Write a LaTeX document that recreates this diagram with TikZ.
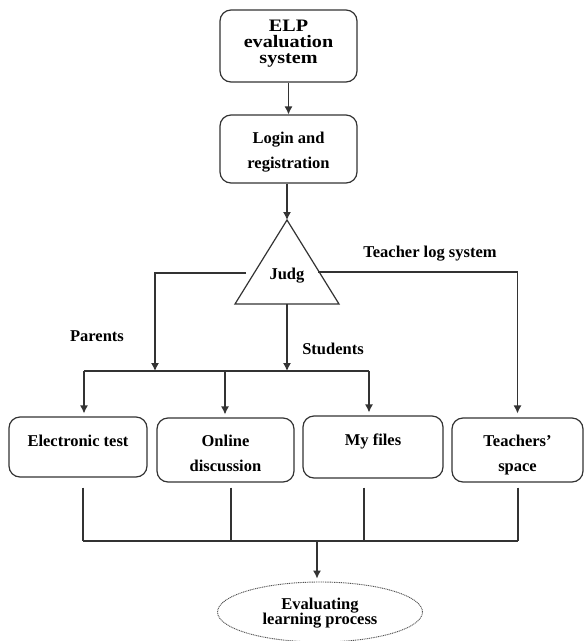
\documentclass[tikz,border=0pt]{standalone}
\usepackage{fontspec}
\setmainfont{Liberation Serif}
\newfontfamily\elpfont[FakeStretch=1.15]{Liberation Serif}
\usetikzlibrary{arrows.meta,shapes.geometric}
\definecolor{ln}{HTML}{333333}
\begin{document}
\begin{tikzpicture}[x=1pt,y=-1pt,
  box/.style={draw=ln, line width=1.2pt, rounded corners=11pt, inner sep=0pt},
  arr/.style={draw=ln, line width=1.2pt, -{Latex[length=8pt,width=8pt]}},
  conn/.style={draw=ln, line width=1.2pt},
  txt/.style={font=\bfseries\fontsize{16.5}{17}\selectfont, inner sep=0pt, anchor=base},
  big/.style={font=\elpfont\bfseries\fontsize{17.5}{16}\selectfont, inner sep=0pt, anchor=base}]
\useasboundingbox (0,0) rectangle (584,641);
\clip (0,0) rectangle (584,641);
\fill[white] (0,0) rectangle (584,641);

% top boxes
\node[box, minimum width=137pt, minimum height=72pt] (elp) at (288.5,46) {};
\node[big] at (288.5,31) {ELP};
\node[big] at (288.5,47) {evaluation};
\node[big] at (288.5,63) {system};

\node[box, minimum width=137pt, minimum height=68pt] (login) at (288.5,149) {};
\node[txt] at (288.5,143) {Login and};
\node[txt] at (288.5,168) {registration};

% triangle
\coordinate (tA) at (287,220);
\coordinate (tL) at (235,304);
\coordinate (tR) at (339,304);
\draw[conn, line join=miter] (tA) -- (tL) -- (tR) -- cycle;
\node[txt] (judg) at (287,279) {Judg};

\draw[arr] (elp.south) -- (elp.south |- login.north);
\draw[arr] (login.south -| tA) -- (tA);

% bottom row boxes
\node[box, minimum width=138pt, minimum height=60pt] (etest) at (78,447) {};
\node[box, minimum width=137pt, minimum height=64pt] (online) at (225.5,450) {};
\node[box, minimum width=140pt, minimum height=62pt] (myfiles) at (373,447) {};
\node[box, minimum width=131pt, minimum height=64pt] (teach) at (517.5,450) {};
\node[txt] at (78,446) {Electronic test};
\node[txt] at (225.5,446) {Online};
\node[txt] at (225.5,471) {discussion};
\node[txt] at (373,445) {My files};
\node[txt] at (517.5,446) {Teachers'};
\node[txt] at (517.5,471) {space};

% branches from Judg
\coordinate (jl) at (246,273);
\coordinate (jr) at (318,272);
\coordinate (jb) at (287,304);
\coordinate (p1) at (84,371);
\coordinate (p2) at (225,371);
\coordinate (p3) at (369,371);
\draw[arr] (jl) -| (155,371);
\draw[arr] (jb) -- (287,371);
\draw[conn] (p1) -- (p3);
\draw[arr, shorten >=3pt] (p1) -- (p1 |- etest.north);
\draw[arr, shorten >=3pt] (p2) -- (p2 |- online.north);
\draw[arr, shorten >=3pt] (p3) -- (p3 |- myfiles.north);
\draw[arr, shorten >=4pt] (jr) -| (teach.north);

\node[txt] at (97,341) {Parents};
\node[txt] at (333,354) {Students};
\node[txt] at (430,257) {Teacher log system};

% merge to evaluation
\coordinate (b1) at (83,541);
\coordinate (b2) at (231,541);
\coordinate (b3) at (364,541);
\coordinate (b4) at (518,541);
\coordinate (bm) at (317,541);
\draw[conn] (b1 |- etest.south) ++(0,10) -- (b1);
\draw[conn] (b2 |- online.south) ++(0,5) -- (b2);
\draw[conn] (b3 |- myfiles.south) ++(0,9) -- (b3);
\draw[conn] (b4 |- teach.south) ++(0,5) -- (b4);
\draw[conn] (b1) -- (b4);

\node[ellipse, draw=ln!85, line width=0.9pt, dash pattern=on 1pt off 0.8pt,
      minimum width=205pt, minimum height=60pt, inner sep=0pt] (eval) at (320,612) {};
\draw[arr, shorten >=3pt] (bm) -- (bm |- eval.north);
\node[txt] at (320,609) {Evaluating};
\node[txt] at (320,624.5) {learning process};
\end{tikzpicture}
\end{document}
